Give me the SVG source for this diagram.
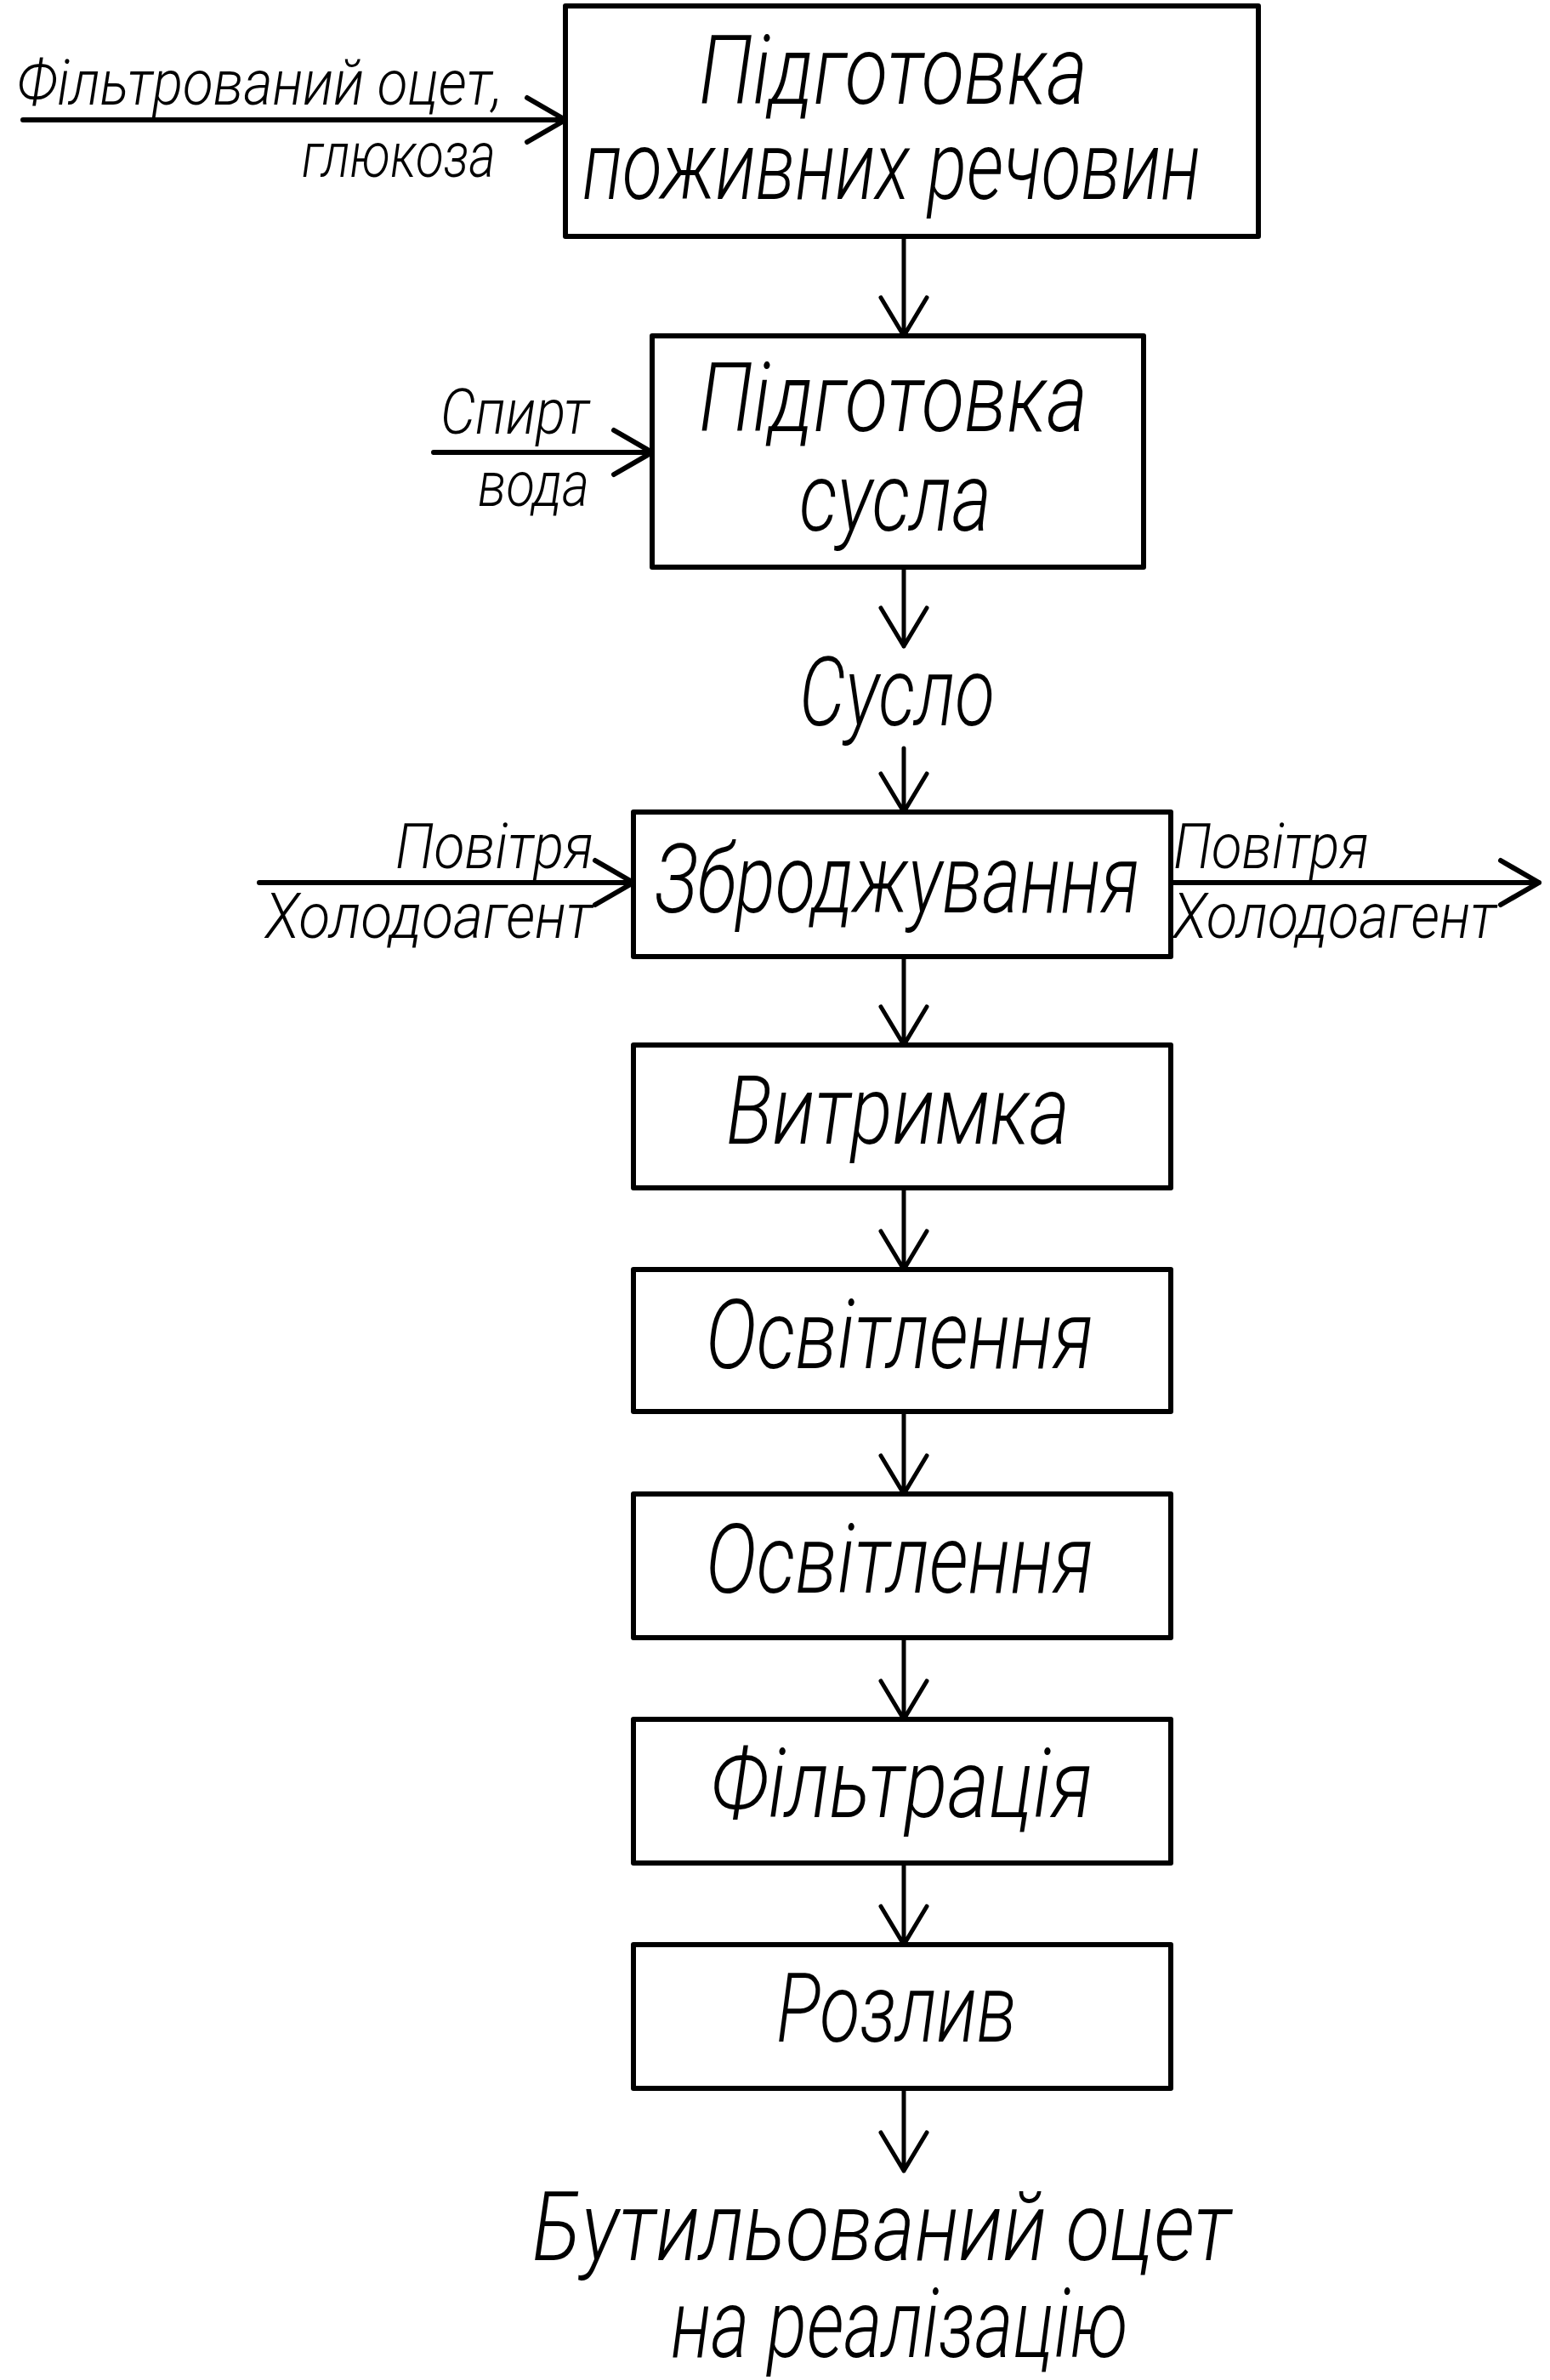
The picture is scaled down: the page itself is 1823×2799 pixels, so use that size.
<svg xmlns="http://www.w3.org/2000/svg" width="1823" height="2799" viewBox="0 0 1823 2799">
<style>
.box{fill:#fff;stroke:#000;stroke-width:6;stroke-linejoin:round}
.ln{fill:none;stroke:#000;stroke-width:5;stroke-linecap:round;stroke-linejoin:round}
.lnh{fill:none;stroke:#000;stroke-width:6;stroke-linecap:round;stroke-linejoin:round}
.big{font-family:Roboto,"Liberation Sans","DejaVu Sans",sans-serif;font-style:italic;font-weight:300;font-size:112px;fill:#000}
.sm{font-family:Roboto,"Liberation Sans","DejaVu Sans",sans-serif;font-style:italic;font-weight:300;font-size:74px;fill:#000}
</style>
<rect width="1823" height="2799" fill="#fff"/>
<g id="connectors">
  <path class="ln" d="M1063 278V395M1036 350L1063 395L1090 350"/>
  <path class="ln" d="M1063 667V760M1036 715L1063 760L1090 715"/>
  <path class="ln" d="M1063 880V955M1036 910L1063 955L1090 910"/>
  <path class="ln" d="M1063 1125V1229M1036 1184L1063 1229L1090 1184"/>
  <path class="ln" d="M1063 1397V1493M1036 1448L1063 1493L1090 1448"/>
  <path class="ln" d="M1063 1660V1757M1036 1712L1063 1757L1090 1712"/>
  <path class="ln" d="M1063 1926V2022M1036 1977L1063 2022L1090 1977"/>
  <path class="ln" d="M1063 2191V2287M1036 2242L1063 2287L1090 2242"/>
  <path class="ln" d="M1063 2456V2553M1036 2508L1063 2553L1090 2508"/>
  <path class="lnh" d="M27 141H665M620 115L665 141L620 167"/>
  <path class="lnh" d="M510 532H767M722 506L767 532L722 558"/>
  <path class="lnh" d="M305 1038H745M700 1012L745 1038L700 1064"/>
  <path class="lnh" d="M1377 1038H1810M1765 1012L1810 1038L1765 1064"/>
</g>
<g id="node-1">
  <rect class="box" x="665" y="7" width="815" height="271"/>
  <text class="big" x="822" y="122" textLength="457" lengthAdjust="spacingAndGlyphs">Підготовка</text>
  <text class="big" x="685" y="234" textLength="727" lengthAdjust="spacingAndGlyphs">поживних речовин</text>
</g>
<g id="node-2">
  <rect class="box" x="767" y="395" width="578" height="272"/>
  <text class="big" x="822" y="507" textLength="457" lengthAdjust="spacingAndGlyphs">Підготовка</text>
  <text class="big" x="940" y="624" textLength="226" lengthAdjust="spacingAndGlyphs">сусла</text>
</g>
<g id="label-suslo">
  <text class="big" x="940" y="853" textLength="230" lengthAdjust="spacingAndGlyphs">Сусло</text>
</g>
<g id="node-3">
  <rect class="box" x="745" y="955" width="632" height="170"/>
  <text class="big" x="770" y="1073" textLength="570" lengthAdjust="spacingAndGlyphs">Зброджування</text>
</g>
<g id="node-4">
  <rect class="box" x="745" y="1229" width="632" height="168"/>
  <text class="big" x="854" y="1345" textLength="404" lengthAdjust="spacingAndGlyphs">Витримка</text>
</g>
<g id="node-5">
  <rect class="box" x="745" y="1493" width="632" height="167"/>
  <text class="big" x="830" y="1609" textLength="456" lengthAdjust="spacingAndGlyphs">Освітлення</text>
</g>
<g id="node-6">
  <rect class="box" x="745" y="1757" width="632" height="169"/>
  <text class="big" x="830" y="1873" textLength="456" lengthAdjust="spacingAndGlyphs">Освітлення</text>
</g>
<g id="node-7">
  <rect class="box" x="745" y="2022" width="632" height="169"/>
  <text class="big" x="836" y="2137" textLength="449" lengthAdjust="spacingAndGlyphs">Фільтрація</text>
</g>
<g id="node-8">
  <rect class="box" x="745" y="2287" width="632" height="169"/>
  <text class="big" x="913" y="2401" textLength="283" lengthAdjust="spacingAndGlyphs">Розлив</text>
</g>
<g id="label-output">
  <text class="big" x="626" y="2658" textLength="822" lengthAdjust="spacingAndGlyphs">Бутильований оцет</text>
  <text class="big" x="789" y="2772" textLength="538" lengthAdjust="spacingAndGlyphs">на реалізацію</text>
</g>
<g id="labels-inputs">
  <text class="sm" x="20" y="123" textLength="571" lengthAdjust="spacingAndGlyphs">Фільтрований оцет,</text>
  <text class="sm" x="355" y="208" textLength="228" lengthAdjust="spacingAndGlyphs">глюкоза</text>
  <text class="sm" x="518" y="510" textLength="175" lengthAdjust="spacingAndGlyphs">Спирт</text>
  <text class="sm" x="562" y="595" textLength="131" lengthAdjust="spacingAndGlyphs">вода</text>
  <text class="sm" x="465" y="1021" textLength="233" lengthAdjust="spacingAndGlyphs">Повітря</text>
  <text class="sm" x="312" y="1103" textLength="385" lengthAdjust="spacingAndGlyphs">Холодоагент</text>
  <text class="sm" x="1380" y="1021" textLength="230" lengthAdjust="spacingAndGlyphs">Повітря</text>
  <text class="sm" x="1380" y="1103" textLength="380" lengthAdjust="spacingAndGlyphs">Холодоагент</text>
</g>
</svg>
